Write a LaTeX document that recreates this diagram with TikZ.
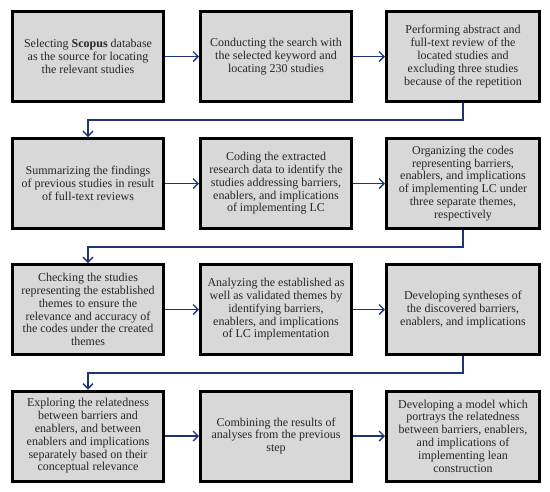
\documentclass[tikz,border=0pt]{standalone}
\usepackage{fontspec}
\setmainfont{Liberation Serif}
\usetikzlibrary{arrows.meta}
\definecolor{boxfill}{RGB}{216,216,216}
\definecolor{arrowblue}{RGB}{30,52,118}
\tikzset{
  stepbox/.style={draw=black, line width=3pt, fill=boxfill, minimum width=151pt, minimum height=90pt,
    inner sep=0pt, align=center, text=black!85, font=\fontsize{12}{12.8}\selectfont},
  flow/.style={draw=arrowblue, line width=1.3pt, -{Straight Barb[length=5pt,width=10pt]}}
}
\begin{document}
\begin{tikzpicture}[x=1pt,y=-1pt]
\useasboundingbox (0,0) rectangle (550,491);
\node[stepbox] (b1) at (88,56.5) {Selecting \textbf{Scopus} database\\as the source for locating\\the relevant studies};
\node[stepbox] (b2) at (276,56.5) {Conducting the search with\\the selected keyword and\\locating 230 studies};
\node[stepbox, minimum width=153pt] (b3) at (463,56.5) {Performing abstract and\\full-text review of the\\located studies and\\excluding three studies\\because of the repetition};
\node[stepbox] (b4) at (88,183.5) {Summarizing the findings\\of previous studies in result\\of full-text reviews};
\node[stepbox] (b5) at (276,183.5) {Coding the extracted\\research data to identify the\\studies addressing barriers,\\enablers, and implications\\of implementing LC};
\node[stepbox, minimum width=153pt] (b6) at (463,183.5) {Organizing the codes\\representing barriers,\\enablers, and implications\\of implementing LC under\\three separate themes,\\respectively};
\node[stepbox] (b7) at (88,309.5) {Checking the studies\\representing the established\\themes to ensure the\\relevance and accuracy of\\the codes under the created\\themes};
\node[stepbox] (b8) at (276,309.5) {Analyzing the established as\\well as validated themes by\\identifying barriers,\\enablers, and implications\\of LC implementation};
\node[stepbox, minimum width=153pt] (b9) at (463,309.5) {Developing syntheses of\\the discovered barriers,\\enablers, and implications};
\node[stepbox] (b10) at (88,436) {Exploring the relatedness\\between barriers and\\enablers, and between\\enablers and implications\\separately based on their\\conceptual relevance};
\node[stepbox] (b11) at (276,436) {Combining the results of\\analyses from the previous\\step};
\node[stepbox, minimum width=153pt] (b12) at (463,436) {Developing a model which\\portrays the relatedness\\between barriers, enablers,\\and implications of\\implementing lean\\construction};
\draw[flow] (b1) -- (b2);
\draw[flow] (b2) -- (b3);
\draw[flow] (b4) -- (b5);
\draw[flow] (b5) -- (b6);
\draw[flow] (b7) -- (b8);
\draw[flow] (b8) -- (b9);
\draw[flow] (b10) -- (b11);
\draw[flow] (b11) -- (b12);
\draw[flow] (b3.south) -- ++(0,17) -| (b4.north);
\draw[flow] (b6.south) -- ++(0,17) -| (b7.north);
\draw[flow] (b9.south) -- ++(0,17) -| (b10.north);
\end{tikzpicture}
\end{document}
